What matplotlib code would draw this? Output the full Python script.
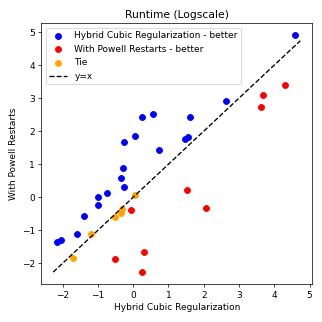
import matplotlib
matplotlib.use("Agg")
import matplotlib.pyplot as plt

hybrid_better_x = [4.60, 2.63, 0.55, 0.26, 1.62, 0.04, -0.26, 0.74, 1.47, 1.56,
                   -0.30, -0.34, -0.26, -0.73, -1.00, -1.01, -1.40, -1.60, -2.06, -2.16]
hybrid_better_y = [4.90, 2.90, 2.52, 2.44, 2.43, 1.84, 1.67, 1.42, 1.77, 1.83,
                   0.88, 0.57, 0.31, 0.13, 0.00, -0.24, -0.57, -1.12, -1.29, -1.35]

powell_better_x = [4.30, 3.67, 3.62, 1.52, 2.06, -0.05, 0.31, -0.53, 0.26]
powell_better_y = [3.41, 3.08, 2.74, 0.23, -0.32, -0.39, -1.67, -1.87, -2.27]

tie_x = [0.05, -0.32, -0.36, -0.51, -1.21, -1.72]
tie_y = [0.08, -0.35, -0.49, -0.60, -1.12, -1.85]

line_range = [-2.27, 4.74]

fig = plt.figure(figsize=(5, 5), dpi=64.4)
ax = fig.add_axes([0.128, 0.117, 0.842, 0.811])

ax.scatter(hybrid_better_x, hybrid_better_y, s=44, color="blue", label="Hybrid Cubic Regularization - better")
ax.scatter(powell_better_x, powell_better_y, s=44, color="red", label="With Powell Restarts - better")
ax.scatter(tie_x, tie_y, s=44, color="orange", label="Tie")
ax.plot(line_range, line_range, "k--", linewidth=1.5, label="y=x")

ax.set_xlim(-2.61, 5.08)
ax.set_ylim(-2.64, 5.27)
ax.set_xlabel("Hybrid Cubic Regularization")
ax.set_ylabel("With Powell Restarts")
ax.set_title("Runtime (Logscale)")
ax.legend(loc="upper left")

fig.savefig("out.png", dpi=64.4)
